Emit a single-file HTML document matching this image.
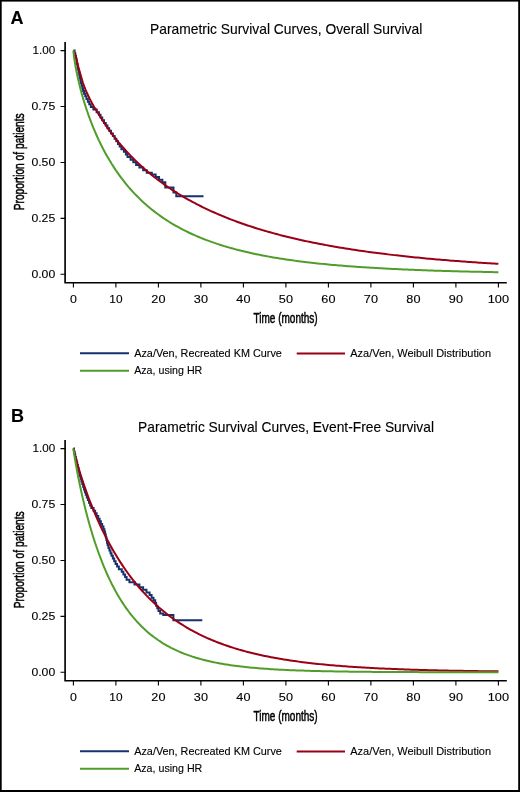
<!DOCTYPE html>
<html><head><meta charset="utf-8"><title>Parametric Survival Curves</title>
<style>
html,body{margin:0;padding:0;background:#fff;}
body{width:520px;height:792px;overflow:hidden;font-family:"Liberation Sans",sans-serif;}
svg{display:block;will-change:transform;}
text{stroke:#000;stroke-width:0.12px;}
text.c{stroke-width:0.5px;}
text.b{stroke-width:0.2px;}
</style></head><body>
<svg width="520" height="792" viewBox="0 0 520 792" font-family="Liberation Sans, sans-serif" fill="#000" stroke="none">
<rect x="0" y="0" width="520" height="792" fill="#fff"/>
<g transform="translate(0,0)">
<text x="10.6" y="23.7" font-size="18" text-anchor="start" font-weight="bold">A</text>
<text x="150" y="34.2" font-size="14.3" text-anchor="start" textLength="272.3" lengthAdjust="spacingAndGlyphs">Parametric Survival Curves, Overall Survival</text>
<path d="M65.1,42 V283.55 M64.3,282.7 H506.8" stroke="#000" stroke-width="1.65" fill="none"/>
<path d="M60.5,274.3 H65.1 M60.5,218.38 H65.1 M60.5,162.45 H65.1 M60.5,106.53 H65.1 M60.5,50.6 H65.1 M73.4,282.7 V287.6 M115.9,282.7 V287.6 M158.4,282.7 V287.6 M200.9,282.7 V287.6 M243.4,282.7 V287.6 M285.9,282.7 V287.6 M328.4,282.7 V287.6 M370.9,282.7 V287.6 M413.4,282.7 V287.6 M455.9,282.7 V287.6 M498.4,282.7 V287.6" stroke="#000" stroke-width="1.1" fill="none"/>
<text x="55.2" y="278.15" font-size="11.2" text-anchor="end" textLength="23.8" lengthAdjust="spacingAndGlyphs">0.00</text>
<text x="55.2" y="222.22" font-size="11.2" text-anchor="end" textLength="23.8" lengthAdjust="spacingAndGlyphs">0.25</text>
<text x="55.2" y="166.3" font-size="11.2" text-anchor="end" textLength="23.8" lengthAdjust="spacingAndGlyphs">0.50</text>
<text x="55.2" y="110.38" font-size="11.2" text-anchor="end" textLength="23.8" lengthAdjust="spacingAndGlyphs">0.75</text>
<text x="55.2" y="54.45" font-size="11.2" text-anchor="end" textLength="22.7" lengthAdjust="spacingAndGlyphs">1.00</text>
<text x="73.4" y="302.8" font-size="11.2" text-anchor="middle" textLength="6.9" lengthAdjust="spacingAndGlyphs">0</text>
<text x="115.9" y="302.8" font-size="11.2" text-anchor="middle" textLength="13.2" lengthAdjust="spacingAndGlyphs">10</text>
<text x="158.4" y="302.8" font-size="11.2" text-anchor="middle" textLength="14.1" lengthAdjust="spacingAndGlyphs">20</text>
<text x="200.9" y="302.8" font-size="11.2" text-anchor="middle" textLength="14.1" lengthAdjust="spacingAndGlyphs">30</text>
<text x="243.4" y="302.8" font-size="11.2" text-anchor="middle" textLength="14.1" lengthAdjust="spacingAndGlyphs">40</text>
<text x="285.9" y="302.8" font-size="11.2" text-anchor="middle" textLength="14.1" lengthAdjust="spacingAndGlyphs">50</text>
<text x="328.4" y="302.8" font-size="11.2" text-anchor="middle" textLength="14.1" lengthAdjust="spacingAndGlyphs">60</text>
<text x="370.9" y="302.8" font-size="11.2" text-anchor="middle" textLength="14.1" lengthAdjust="spacingAndGlyphs">70</text>
<text x="413.4" y="302.8" font-size="11.2" text-anchor="middle" textLength="14.1" lengthAdjust="spacingAndGlyphs">80</text>
<text x="455.9" y="302.8" font-size="11.2" text-anchor="middle" textLength="14.1" lengthAdjust="spacingAndGlyphs">90</text>
<text x="498.4" y="302.8" font-size="11.2" text-anchor="middle" textLength="21.3" lengthAdjust="spacingAndGlyphs">100</text>
<text x="285.6" y="323.1" font-size="14.2" text-anchor="middle" textLength="64.2" lengthAdjust="spacingAndGlyphs" class="c">Time (months)</text>
<text class="c" transform="translate(23.5,161.8) rotate(-90)" x="0" y="0" font-size="14.2" text-anchor="middle" textLength="97" lengthAdjust="spacingAndGlyphs">Proportion of patients</text>
<path d="M73.4,50.6 L74.6,50.6 L74.6,53.28 L75.3,53.28 L75.3,55.91 L75.95,55.91 L75.95,58.52 L76.45,58.52 L76.45,61.31 L76.95,61.31 L76.95,64.09 L77.45,64.09 L77.45,66.79 L78.05,66.79 L78.05,69.55 L78.65,69.55 L78.65,72.31 L79.2,72.31 L79.2,74.97 L79.75,74.97 L79.75,77.65 L80.3,77.65 L80.3,80.32 L80.85,80.32 L80.85,82.95 L81.55,82.95 L81.55,85.58 L82.3,85.58 L82.3,88.33 L83.05,88.33 L83.05,91.02 L84.05,91.02 L84.05,93.72 L85.25,93.72 L85.25,96.37 L86.45,96.37 L86.45,99.03 L87.85,99.03 L87.85,101.72 L89.25,101.72 L89.25,104.33 L90.8,104.33 L90.8,106.97 L93.4,106.97 L93.4,109.59 L96.65,109.59 L96.65,112.21 L98.9,112.21 L98.9,114.86 L100.55,114.86 L100.55,117.54 L102.25,117.54 L102.25,120.21 L104,120.21 L104,122.88 L105.75,122.88 L105.75,125.53 L107.45,125.53 L107.45,128.17 L109.2,128.17 L109.2,130.81 L111,130.81 L111,133.43 L112.85,133.43 L112.85,136.05 L114.6,136.05 L114.6,138.68 L116.25,138.68 L116.25,141.3 L117.95,141.3 L117.95,143.92 L119.65,143.92 L119.65,146.57 L121.4,146.57 L121.4,149.2 L123.95,149.2 L123.95,151.85 L125.9,151.85 L125.9,154.49 L127.5,154.49 L127.5,157.11 L130.6,157.11 L130.6,159.75 L133.3,159.75 L133.3,162.36 L136.1,162.36 L136.1,164.96 L139.4,164.96 L139.4,167.57 L143.15,167.57 L143.15,170.2 L146.75,170.2 L146.75,172.82 L151.8,172.82 L151.8,174.48 L155.65,174.48 L155.65,177.09 L159,177.09 L159,179.7 L162.35,179.7 L162.35,182.31 L165.3,182.31 L165.3,187.5 L173.5,187.5 L173.5,192.4 L176.3,192.4 L176.3,196.3 L203.5,196.3" stroke="#16326d" stroke-width="2" fill="none" stroke-linejoin="miter"/>
<path d="M73.6,50.6 L74.9,53.5 L76.3,58.2 L78.2,66.4 L80.5,74.6 L82.9,82.8 L86,91 L89.9,99.2 L94.3,107.4 L96.78,110.93 L98.9,114.52 L101.03,117.96 L103.15,121.28 L105.28,124.48 L107.4,127.57 L109.53,130.56 L111.65,133.45 L113.78,136.24 L115.9,138.95 L118.03,141.58 L120.15,144.14 L122.28,146.61 L124.4,149.02 L126.53,151.37 L128.65,153.65 L130.78,155.87 L132.9,158.03 L135.03,160.13 L137.15,162.18 L139.28,164.19 L141.4,166.14 L143.53,168.04 L145.65,169.9 L147.78,171.72 L149.9,173.49 L152.03,175.22 L154.15,176.91 L156.28,178.57 L158.4,180.19 L160.53,181.77 L162.65,183.31 L164.78,184.83 L166.9,186.31 L169.03,187.76 L171.15,189.18 L173.28,190.56 L175.4,191.92 L177.53,193.26 L179.65,194.56 L181.78,195.84 L183.9,197.09 L186.03,198.32 L188.15,199.52 L190.28,200.7 L192.4,201.86 L194.53,202.99 L196.65,204.1 L198.78,205.19 L200.9,206.26 L203.03,207.31 L205.15,208.34 L207.28,209.35 L209.4,210.35 L211.53,211.32 L213.65,212.27 L215.78,213.21 L217.9,214.13 L220.03,215.04 L222.15,215.92 L224.28,216.79 L226.4,217.65 L228.53,218.49 L230.65,219.32 L232.78,220.13 L234.9,220.93 L237.03,221.71 L239.15,222.48 L241.28,223.23 L243.4,223.98 L245.53,224.71 L247.65,225.43 L249.78,226.13 L251.9,226.82 L254.03,227.51 L256.15,228.18 L258.27,228.84 L260.4,229.48 L262.52,230.12 L264.65,230.75 L266.77,231.37 L268.9,231.97 L271.02,232.57 L273.15,233.15 L275.27,233.73 L277.4,234.3 L279.52,234.86 L281.65,235.41 L283.77,235.95 L285.9,236.48 L288.02,237 L290.15,237.52 L292.27,238.03 L294.4,238.52 L296.52,239.02 L298.65,239.5 L300.77,239.97 L302.9,240.44 L305.02,240.9 L307.15,241.36 L309.27,241.8 L311.4,242.24 L313.52,242.68 L315.65,243.1 L317.77,243.52 L319.9,243.94 L322.02,244.34 L324.15,244.75 L326.27,245.14 L328.4,245.53 L330.52,245.91 L332.65,246.29 L334.77,246.66 L336.9,247.03 L339.02,247.39 L341.15,247.74 L343.27,248.09 L345.4,248.44 L347.52,248.78 L349.65,249.11 L351.77,249.44 L353.9,249.77 L356.02,250.09 L358.15,250.4 L360.27,250.71 L362.4,251.02 L364.52,251.32 L366.65,251.62 L368.77,251.91 L370.9,252.2 L373.02,252.49 L375.15,252.77 L377.27,253.04 L379.4,253.32 L381.52,253.58 L383.65,253.85 L385.77,254.11 L387.9,254.37 L390.02,254.62 L392.15,254.87 L394.27,255.12 L396.4,255.36 L398.52,255.6 L400.65,255.84 L402.77,256.07 L404.9,256.3 L407.02,256.53 L409.15,256.75 L411.27,256.97 L413.4,257.19 L415.52,257.4 L417.65,257.61 L419.77,257.82 L421.9,258.03 L424.02,258.23 L426.15,258.43 L428.27,258.63 L430.4,258.82 L432.52,259.01 L434.65,259.2 L436.77,259.39 L438.9,259.57 L441.02,259.76 L443.15,259.94 L445.27,260.11 L447.4,260.29 L449.52,260.46 L451.65,260.63 L453.77,260.8 L455.9,260.96 L458.02,261.12 L460.15,261.28 L462.27,261.44 L464.4,261.6 L466.52,261.75 L468.65,261.91 L470.77,262.06 L472.9,262.21 L475.02,262.35 L477.15,262.5 L479.27,262.64 L481.4,262.78 L483.52,262.92 L485.65,263.05 L487.77,263.19 L489.9,263.32 L492.02,263.46 L494.15,263.58 L496.27,263.71 L498.4,263.84" stroke="#9a0016" stroke-width="2" fill="none" stroke-linejoin="round"/>
<path d="M73.4,50.6 L73.83,55.17 L74.25,58.41 L74.68,61.27 L75.1,63.89 L75.53,66.34 L75.95,68.66 L76.38,70.88 L76.8,73 L77.23,75.05 L77.65,77.03 L78.08,78.94 L78.5,80.81 L78.93,82.62 L79.35,84.38 L79.78,86.1 L80.2,87.79 L80.62,89.43 L81.05,91.04 L81.48,92.62 L81.9,94.17 L82.33,95.68 L82.75,97.17 L83.18,98.64 L83.6,100.07 L84.03,101.48 L84.45,102.87 L84.88,104.24 L85.3,105.59 L85.73,106.91 L86.15,108.21 L86.58,109.5 L87,110.76 L87.43,112.01 L87.85,113.24 L88.28,114.46 L88.7,115.65 L89.12,116.83 L89.55,118 L89.98,119.15 L90.4,120.28 L90.83,121.4 L91.25,122.51 L91.68,123.61 L92.1,124.69 L92.53,125.75 L92.95,126.81 L93.38,127.85 L93.8,128.88 L94.23,129.9 L94.65,130.9 L96.78,135.77 L98.9,140.39 L101.03,144.77 L103.15,148.94 L105.28,152.92 L107.4,156.71 L109.53,160.34 L111.65,163.82 L113.78,167.14 L115.9,170.34 L118.03,173.4 L120.15,176.34 L122.28,179.18 L124.4,181.9 L126.53,184.52 L128.65,187.05 L130.78,189.48 L132.9,191.83 L135.03,194.1 L137.15,196.29 L139.28,198.4 L141.4,200.44 L143.53,202.42 L145.65,204.33 L147.78,206.17 L149.9,207.96 L152.03,209.69 L154.15,211.37 L156.28,212.99 L158.4,214.56 L160.53,216.09 L162.65,217.56 L164.78,219 L166.9,220.39 L169.03,221.73 L171.15,223.04 L173.28,224.31 L175.4,225.55 L177.53,226.74 L179.65,227.91 L181.78,229.03 L183.9,230.13 L186.03,231.2 L188.15,232.23 L190.28,233.24 L192.4,234.22 L194.53,235.17 L196.65,236.1 L198.78,237 L200.9,237.88 L203.03,238.73 L205.15,239.56 L207.28,240.37 L209.4,241.16 L211.53,241.92 L213.65,242.67 L215.78,243.4 L217.9,244.1 L220.03,244.79 L222.15,245.46 L224.28,246.12 L226.4,246.75 L228.53,247.38 L230.65,247.98 L232.78,248.57 L234.9,249.15 L237.03,249.71 L239.15,250.25 L241.28,250.79 L243.4,251.31 L245.53,251.81 L247.65,252.31 L249.78,252.79 L251.9,253.26 L254.03,253.72 L256.15,254.17 L258.27,254.6 L260.4,255.03 L262.52,255.45 L264.65,255.85 L266.77,256.25 L268.9,256.64 L271.02,257.02 L273.15,257.39 L275.27,257.75 L277.4,258.1 L279.52,258.44 L281.65,258.78 L283.77,259.1 L285.9,259.43 L288.02,259.74 L290.15,260.04 L292.27,260.34 L294.4,260.63 L296.52,260.92 L298.65,261.2 L300.77,261.47 L302.9,261.74 L305.02,262 L307.15,262.25 L309.27,262.5 L311.4,262.74 L313.52,262.98 L315.65,263.21 L317.77,263.44 L319.9,263.66 L322.02,263.88 L324.15,264.09 L326.27,264.3 L328.4,264.5 L330.52,264.7 L332.65,264.89 L334.77,265.08 L336.9,265.27 L339.02,265.45 L341.15,265.62 L343.27,265.8 L345.4,265.97 L347.52,266.13 L349.65,266.3 L351.77,266.46 L353.9,266.61 L356.02,266.76 L358.15,266.91 L360.27,267.06 L362.4,267.2 L364.52,267.34 L366.65,267.48 L368.77,267.61 L370.9,267.74 L373.02,267.87 L375.15,268 L377.27,268.12 L379.4,268.24 L381.52,268.36 L383.65,268.48 L385.77,268.59 L387.9,268.7 L390.02,268.81 L392.15,268.91 L394.27,269.02 L396.4,269.12 L398.52,269.22 L400.65,269.32 L402.77,269.41 L404.9,269.51 L407.02,269.6 L409.15,269.69 L411.27,269.78 L413.4,269.86 L415.52,269.95 L417.65,270.03 L419.77,270.11 L421.9,270.19 L424.02,270.27 L426.15,270.34 L428.27,270.42 L430.4,270.49 L432.52,270.56 L434.65,270.63 L436.77,270.7 L438.9,270.77 L441.02,270.84 L443.15,270.9 L445.27,270.97 L447.4,271.03 L449.52,271.09 L451.65,271.15 L453.77,271.21 L455.9,271.26 L458.02,271.32 L460.15,271.38 L462.27,271.43 L464.4,271.48 L466.52,271.54 L468.65,271.59 L470.77,271.64 L472.9,271.69 L475.02,271.73 L477.15,271.78 L479.27,271.83 L481.4,271.87 L483.52,271.92 L485.65,271.96 L487.77,272 L489.9,272.05 L492.02,272.09 L494.15,272.13 L496.27,272.17 L498.4,272.2" stroke="#509d29" stroke-width="2" fill="none" stroke-linejoin="round"/>
<path d="M80,353.3 H129" stroke="#16326d" stroke-width="2.1"/>
<path d="M296.7,353.5 H345" stroke="#9a0016" stroke-width="2.1"/>
<path d="M80,370.8 H129" stroke="#509d29" stroke-width="2.1"/>
<text x="134.2" y="356.9" font-size="11.5" text-anchor="start" textLength="147.7" lengthAdjust="spacingAndGlyphs">Aza/Ven, Recreated KM Curve</text>
<text x="350.3" y="356.9" font-size="11.5" text-anchor="start" textLength="140.8" lengthAdjust="spacingAndGlyphs">Aza/Ven, Weibull Distribution</text>
<text x="134.2" y="374.1" font-size="11.5" text-anchor="start" textLength="68.1" lengthAdjust="spacingAndGlyphs">Aza, using HR</text>
</g>
<g transform="translate(0,398)">
<text x="10.9" y="23.7" font-size="18" text-anchor="start" font-weight="bold">B</text>
<text x="138.1" y="34.2" font-size="14.3" text-anchor="start" textLength="295.9" lengthAdjust="spacingAndGlyphs">Parametric Survival Curves, Event-Free Survival</text>
<path d="M65.1,42 V283.55 M64.3,282.7 H506.8" stroke="#000" stroke-width="1.65" fill="none"/>
<path d="M60.5,274.3 H65.1 M60.5,218.38 H65.1 M60.5,162.45 H65.1 M60.5,106.53 H65.1 M60.5,50.6 H65.1 M73.4,282.7 V287.6 M115.9,282.7 V287.6 M158.4,282.7 V287.6 M200.9,282.7 V287.6 M243.4,282.7 V287.6 M285.9,282.7 V287.6 M328.4,282.7 V287.6 M370.9,282.7 V287.6 M413.4,282.7 V287.6 M455.9,282.7 V287.6 M498.4,282.7 V287.6" stroke="#000" stroke-width="1.1" fill="none"/>
<text x="55.2" y="278.15" font-size="11.2" text-anchor="end" textLength="23.8" lengthAdjust="spacingAndGlyphs">0.00</text>
<text x="55.2" y="222.22" font-size="11.2" text-anchor="end" textLength="23.8" lengthAdjust="spacingAndGlyphs">0.25</text>
<text x="55.2" y="166.3" font-size="11.2" text-anchor="end" textLength="23.8" lengthAdjust="spacingAndGlyphs">0.50</text>
<text x="55.2" y="110.38" font-size="11.2" text-anchor="end" textLength="23.8" lengthAdjust="spacingAndGlyphs">0.75</text>
<text x="55.2" y="54.45" font-size="11.2" text-anchor="end" textLength="22.7" lengthAdjust="spacingAndGlyphs">1.00</text>
<text x="73.4" y="302.8" font-size="11.2" text-anchor="middle" textLength="6.9" lengthAdjust="spacingAndGlyphs">0</text>
<text x="115.9" y="302.8" font-size="11.2" text-anchor="middle" textLength="13.2" lengthAdjust="spacingAndGlyphs">10</text>
<text x="158.4" y="302.8" font-size="11.2" text-anchor="middle" textLength="14.1" lengthAdjust="spacingAndGlyphs">20</text>
<text x="200.9" y="302.8" font-size="11.2" text-anchor="middle" textLength="14.1" lengthAdjust="spacingAndGlyphs">30</text>
<text x="243.4" y="302.8" font-size="11.2" text-anchor="middle" textLength="14.1" lengthAdjust="spacingAndGlyphs">40</text>
<text x="285.9" y="302.8" font-size="11.2" text-anchor="middle" textLength="14.1" lengthAdjust="spacingAndGlyphs">50</text>
<text x="328.4" y="302.8" font-size="11.2" text-anchor="middle" textLength="14.1" lengthAdjust="spacingAndGlyphs">60</text>
<text x="370.9" y="302.8" font-size="11.2" text-anchor="middle" textLength="14.1" lengthAdjust="spacingAndGlyphs">70</text>
<text x="413.4" y="302.8" font-size="11.2" text-anchor="middle" textLength="14.1" lengthAdjust="spacingAndGlyphs">80</text>
<text x="455.9" y="302.8" font-size="11.2" text-anchor="middle" textLength="14.1" lengthAdjust="spacingAndGlyphs">90</text>
<text x="498.4" y="302.8" font-size="11.2" text-anchor="middle" textLength="21.3" lengthAdjust="spacingAndGlyphs">100</text>
<text x="285.6" y="323.1" font-size="14.2" text-anchor="middle" textLength="64.2" lengthAdjust="spacingAndGlyphs" class="c">Time (months)</text>
<text class="c" transform="translate(23.5,161.8) rotate(-90)" x="0" y="0" font-size="14.2" text-anchor="middle" textLength="97" lengthAdjust="spacingAndGlyphs">Proportion of patients</text>
<path d="M73.4,50.6 L74,50.6 L74,53.38 L74.6,53.38 L74.6,56.17 L75.2,56.17 L75.2,58.95 L75.85,58.95 L75.85,61.63 L76.5,61.63 L76.5,64.25 L77.15,64.25 L77.15,67.07 L77.8,67.07 L77.8,69.86 L78.45,69.86 L78.45,72.65 L79.1,72.65 L79.1,75.37 L79.75,75.37 L79.75,78 L80.55,78 L80.55,80.7 L81.4,80.7 L81.4,83.41 L82.25,83.41 L82.25,86.12 L83.1,86.12 L83.1,88.75 L84,88.75 L84,91.49 L84.9,91.49 L84.9,94.18 L85.8,94.18 L85.8,96.8 L86.8,96.8 L86.8,99.43 L87.9,99.43 L87.9,102.09 L89,102.09 L89,104.73 L90.15,104.73 L90.15,107.39 L91.3,107.39 L91.3,110.05 L93.55,110.05 L93.55,112.69 L95.15,112.69 L95.15,115.36 L96.65,115.36 L96.65,117.97 L98.2,117.97 L98.2,120.64 L99.6,120.64 L99.6,123.31 L100.85,123.31 L100.85,125.93 L102.15,125.93 L102.15,128.61 L103.45,128.61 L103.45,131.22 L104.4,131.22 L104.4,133.86 L105.1,133.86 L105.1,136.49 L105.8,136.49 L105.8,139.18 L106.4,139.18 L106.4,141.96 L107,141.96 L107,144.65 L107.6,144.65 L107.6,147.29 L108.45,147.29 L108.45,149.95 L109.45,149.95 L109.45,152.56 L110.5,152.56 L110.5,155.24 L111.55,155.24 L111.55,157.87 L112.85,157.87 L112.85,160.55 L114.2,160.55 L114.2,163.21 L115.6,163.21 L115.6,165.9 L117.1,165.9 L117.1,168.56 L118.85,168.56 L118.85,171.19 L121.75,171.19 L121.75,173.81 L123.4,173.81 L123.4,176.46 L125.1,176.46 L125.1,179.12 L126.6,179.12 L126.6,181.75 L129.45,181.75 L129.45,184.37 L134.5,184.37 L134.5,186.54 L139.4,186.54 L139.4,189.16 L143.1,189.16 L143.1,191.76 L146.45,191.76 L146.45,194.39 L149.6,194.39 L149.6,197.02 L151.6,197.02 L151.6,199.66 L153.5,199.66 L153.5,202.28 L155.2,202.28 L155.2,204.91 L156.1,204.91 L156.1,207.66 L157.25,207.66 L157.25,210.31 L158.5,210.31 L158.5,212.94 L160.2,212.94 L160.2,215.54 L163.3,215.54 L163.3,216.9 L173.4,216.9 L173.4,222.2 L202.3,222.2" stroke="#16326d" stroke-width="2" fill="none" stroke-linejoin="miter"/>
<path d="M73.4,50.6 L75.53,59.36 L77.65,66.99 L79.78,74.08 L81.9,80.77 L84.03,87.13 L86.15,93.18 L88.28,98.98 L90.4,104.53 L92.53,109.86 L94.65,114.98 L96.78,119.91 L98.9,124.66 L101.03,129.23 L103.15,133.64 L105.28,137.89 L107.4,142 L109.53,145.96 L111.65,149.79 L113.78,153.5 L115.9,157.07 L118.03,160.54 L120.15,163.88 L122.28,167.12 L124.4,170.25 L126.53,173.29 L128.65,176.22 L130.78,179.07 L132.9,181.82 L135.03,184.49 L137.15,187.07 L139.28,189.58 L141.4,192.01 L143.53,194.36 L145.65,196.64 L147.78,198.85 L149.9,200.99 L152.03,203.07 L154.15,205.09 L156.28,207.04 L158.4,208.94 L160.53,210.78 L162.65,212.56 L164.78,214.29 L166.9,215.97 L169.03,217.6 L171.15,219.19 L173.28,220.72 L175.4,222.22 L177.53,223.66 L179.65,225.07 L181.78,226.43 L183.9,227.76 L186.03,229.04 L188.15,230.29 L190.28,231.51 L192.4,232.68 L194.53,233.83 L196.65,234.94 L198.78,236.02 L200.9,237.07 L203.03,238.09 L205.15,239.08 L207.28,240.04 L209.4,240.97 L211.53,241.88 L213.65,242.76 L215.78,243.62 L217.9,244.45 L220.03,245.26 L222.15,246.05 L224.28,246.82 L226.4,247.56 L228.53,248.28 L230.65,248.98 L232.78,249.67 L234.9,250.33 L237.03,250.98 L239.15,251.6 L241.28,252.21 L243.4,252.81 L245.53,253.38 L247.65,253.94 L249.78,254.49 L251.9,255.02 L254.03,255.53 L256.15,256.04 L258.27,256.52 L260.4,257 L262.52,257.46 L264.65,257.91 L266.77,258.34 L268.9,258.77 L271.02,259.18 L273.15,259.58 L275.27,259.97 L277.4,260.35 L279.52,260.72 L281.65,261.08 L283.77,261.43 L285.9,261.77 L288.02,262.1 L290.15,262.42 L292.27,262.74 L294.4,263.04 L296.52,263.34 L298.65,263.63 L300.77,263.91 L302.9,264.18 L305.02,264.45 L307.15,264.7 L309.27,264.96 L311.4,265.2 L313.52,265.44 L315.65,265.67 L317.77,265.9 L319.9,266.12 L322.02,266.33 L324.15,266.54 L326.27,266.74 L328.4,266.94 L330.52,267.13 L332.65,267.32 L334.77,267.5 L336.9,267.68 L339.02,267.85 L341.15,268.02 L343.27,268.18 L345.4,268.34 L347.52,268.49 L349.65,268.64 L351.77,268.79 L353.9,268.93 L356.02,269.07 L358.15,269.21 L360.27,269.34 L362.4,269.47 L364.52,269.59 L366.65,269.71 L368.77,269.83 L370.9,269.95 L373.02,270.06 L375.15,270.17 L377.27,270.28 L379.4,270.38 L381.52,270.48 L383.65,270.58 L385.77,270.67 L387.9,270.77 L390.02,270.86 L392.15,270.95 L394.27,271.03 L396.4,271.12 L398.52,271.2 L400.65,271.28 L402.77,271.36 L404.9,271.43 L407.02,271.5 L409.15,271.58 L411.27,271.65 L413.4,271.71 L415.52,271.78 L417.65,271.84 L419.77,271.91 L421.9,271.97 L424.02,272.03 L426.15,272.09 L428.27,272.14 L430.4,272.2 L432.52,272.25 L434.65,272.3 L436.77,272.35 L438.9,272.4 L441.02,272.45 L443.15,272.5 L445.27,272.54 L447.4,272.59 L449.52,272.63 L451.65,272.67 L453.77,272.72 L455.9,272.76 L458.02,272.79 L460.15,272.83 L462.27,272.87 L464.4,272.91 L466.52,272.94 L468.65,272.98 L470.77,273.01 L472.9,273.04 L475.02,273.07 L477.15,273.1 L479.27,273.14 L481.4,273.16 L483.52,273.19 L485.65,273.22 L487.77,273.25 L489.9,273.27 L492.02,273.3 L494.15,273.33 L496.27,273.35 L498.4,273.37" stroke="#9a0016" stroke-width="2" fill="none" stroke-linejoin="round"/>
<path d="M73.4,50.6 L73.83,53.75 L74.25,56.55 L74.68,59.22 L75.1,61.79 L75.53,64.29 L75.95,66.72 L76.38,69.1 L76.8,71.43 L77.23,73.71 L77.65,75.94 L78.08,78.14 L78.5,80.3 L78.93,82.42 L79.35,84.5 L79.78,86.56 L80.2,88.58 L80.62,90.57 L81.05,92.53 L81.48,94.47 L81.9,96.37 L82.33,98.25 L82.75,100.1 L83.18,101.93 L83.6,103.73 L84.03,105.51 L84.45,107.27 L84.88,109 L85.3,110.71 L85.73,112.39 L86.15,114.06 L86.58,115.71 L87,117.33 L87.43,118.93 L87.85,120.52 L88.28,122.08 L88.7,123.63 L89.12,125.16 L89.55,126.67 L89.98,128.16 L90.4,129.63 L90.83,131.09 L91.25,132.53 L91.68,133.95 L92.1,135.35 L92.53,136.74 L92.95,138.11 L93.38,139.47 L93.8,140.81 L94.23,142.14 L94.65,143.45 L96.78,149.79 L98.9,155.78 L101.03,161.45 L103.15,166.82 L105.28,171.91 L107.4,176.74 L109.53,181.32 L111.65,185.67 L113.78,189.8 L115.9,193.72 L118.03,197.44 L120.15,200.98 L122.28,204.35 L124.4,207.56 L126.53,210.61 L128.65,213.51 L130.78,216.27 L132.9,218.9 L135.03,221.4 L137.15,223.79 L139.28,226.06 L141.4,228.22 L143.53,230.29 L145.65,232.25 L147.78,234.13 L149.9,235.92 L152.03,237.62 L154.15,239.25 L156.28,240.8 L158.4,242.28 L160.53,243.69 L162.65,245.04 L164.78,246.33 L166.9,247.55 L169.03,248.73 L171.15,249.85 L173.28,250.91 L175.4,251.93 L177.53,252.91 L179.65,253.84 L181.78,254.73 L183.9,255.58 L186.03,256.39 L188.15,257.16 L190.28,257.9 L192.4,258.61 L194.53,259.29 L196.65,259.93 L198.78,260.55 L200.9,261.14 L203.03,261.71 L205.15,262.24 L207.28,262.76 L209.4,263.25 L211.53,263.73 L213.65,264.18 L215.78,264.61 L217.9,265.02 L220.03,265.42 L222.15,265.79 L224.28,266.15 L226.4,266.5 L228.53,266.83 L230.65,267.15 L232.78,267.45 L234.9,267.74 L237.03,268.01 L239.15,268.28 L241.28,268.53 L243.4,268.78 L245.53,269.01 L247.65,269.23 L249.78,269.44 L251.9,269.65 L254.03,269.84 L256.15,270.03 L258.27,270.21 L260.4,270.38 L262.52,270.54 L264.65,270.7 L266.77,270.85 L268.9,270.99 L271.02,271.13 L273.15,271.26 L275.27,271.39 L277.4,271.51 L279.52,271.63 L281.65,271.74 L283.77,271.84 L285.9,271.95 L288.02,272.04 L290.15,272.14 L292.27,272.23 L294.4,272.31 L296.52,272.39 L298.65,272.47 L300.77,272.55 L302.9,272.62 L305.02,272.69 L307.15,272.76 L309.27,272.82 L311.4,272.88 L313.52,272.94 L315.65,272.99 L317.77,273.05 L319.9,273.1 L322.02,273.15 L324.15,273.2 L326.27,273.24 L328.4,273.28 L330.52,273.33 L332.65,273.37 L334.77,273.4 L336.9,273.44 L339.02,273.48 L341.15,273.51 L343.27,273.54 L345.4,273.57 L347.52,273.6 L349.65,273.63 L351.77,273.66 L353.9,273.68 L356.02,273.71 L358.15,273.73 L360.27,273.76 L362.4,273.78 L364.52,273.8 L366.65,273.82 L368.77,273.84 L370.9,273.86 L373.02,273.88 L375.15,273.89 L377.27,273.91 L379.4,273.92 L381.52,273.94 L383.65,273.95 L385.77,273.97 L387.9,273.98 L390.02,273.99 L392.15,274.01 L394.27,274.02 L396.4,274.03 L398.52,274.04 L400.65,274.05 L402.77,274.06 L404.9,274.07 L407.02,274.08 L409.15,274.09 L411.27,274.1 L413.4,274.11 L415.52,274.11 L417.65,274.12 L419.77,274.13 L421.9,274.13 L424.02,274.14 L426.15,274.15 L428.27,274.15 L430.4,274.16 L432.52,274.17 L434.65,274.17 L436.77,274.18 L438.9,274.18 L441.02,274.19 L443.15,274.19 L445.27,274.19 L447.4,274.2 L449.52,274.2 L451.65,274.21 L453.77,274.21 L455.9,274.21 L458.02,274.22 L460.15,274.22 L462.27,274.22 L464.4,274.23 L466.52,274.23 L468.65,274.23 L470.77,274.24 L472.9,274.24 L475.02,274.24 L477.15,274.24 L479.27,274.24 L481.4,274.25 L483.52,274.25 L485.65,274.25 L487.77,274.25 L489.9,274.25 L492.02,274.26 L494.15,274.26 L496.27,274.26 L498.4,274.26" stroke="#509d29" stroke-width="2" fill="none" stroke-linejoin="round"/>
<path d="M80,353.3 H129" stroke="#16326d" stroke-width="2.1"/>
<path d="M296.7,353.5 H345" stroke="#9a0016" stroke-width="2.1"/>
<path d="M80,370.8 H129" stroke="#509d29" stroke-width="2.1"/>
<text x="134.2" y="356.9" font-size="11.5" text-anchor="start" textLength="147.7" lengthAdjust="spacingAndGlyphs">Aza/Ven, Recreated KM Curve</text>
<text x="350.3" y="356.9" font-size="11.5" text-anchor="start" textLength="140.8" lengthAdjust="spacingAndGlyphs">Aza/Ven, Weibull Distribution</text>
<text x="134.2" y="374.1" font-size="11.5" text-anchor="start" textLength="68.1" lengthAdjust="spacingAndGlyphs">Aza, using HR</text>
</g>
<rect x="0" y="0" width="520" height="1.6" fill="#000"/>
<rect x="0" y="0" width="1.7" height="792" fill="#000"/>
<rect x="518.2" y="0" width="1.8" height="792" fill="#000"/>
<rect x="0" y="790" width="520" height="2" fill="#000"/>
</svg>
</body></html>
